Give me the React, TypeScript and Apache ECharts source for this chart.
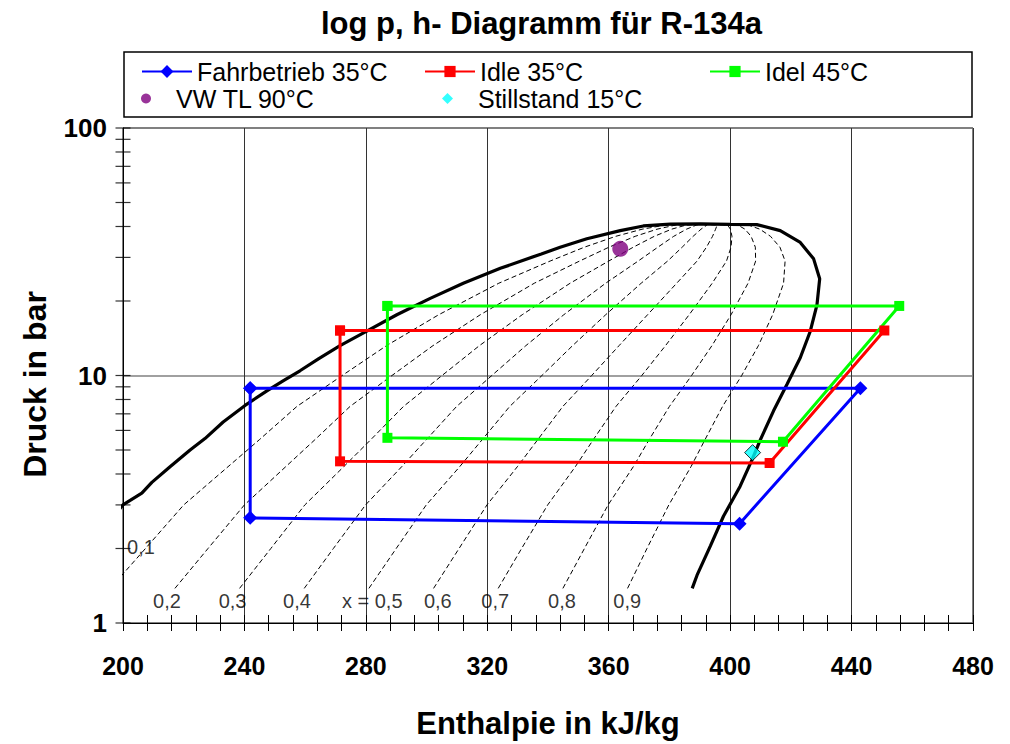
import React, { useEffect, useRef } from "react";
import * as echarts from "echarts";

const FONT = "'Liberation Sans', Arial, sans-serif";

// Saturation curve (liquid side, then vapour side), [h kJ/kg, p bar]
const satLiquidH = [197.4, 200.1, 206.2, 209.5, 215.5, 222.1, 227.0, 233.0, 240.2, 247.4, 253.0, 258.3, 264.5, 271.5, 280.3, 290.2, 301.2, 312.1, 324.3, 337.8, 344.0, 352.8, 363.8, 371.4, 380.3, 390.2];
const satLiquidP = [2.75, 3.01, 3.35, 3.70, 4.28, 5.0, 5.56, 6.49, 7.57, 8.67, 9.55, 10.45, 11.7, 13.2, 15.1, 17.6, 20.5, 23.6, 27.1, 31.0, 33.0, 35.7, 38.5, 40.2, 40.9, 41.0];
const satVapourH = [400.0, 408.8, 416.5, 423.1, 427.5, 429.5, 428.6, 426.4, 423.1, 418.7, 414.3, 409.9, 407.2, 403.3, 397.8, 393.5, 389.1, 387.5];
const satVapourP = [40.8, 40.7, 38.5, 34.5, 29.6, 24.6, 19.3, 15.1, 11.8, 9.2, 7.2, 5.48, 4.56, 3.57, 2.70, 2.05, 1.56, 1.38];

// Quality lines x = 0.1 ... 0.9 : enthalpy at each of these pressures
const qualityP = [1.38, 2.0, 3.0, 4.28, 5.5, 7.5, 10, 13.2, 17.6, 23.6, 29, 33, 36.5, 39, 40.5, 40.9];
const q01 = [195.8, 207.4, 220.0, 234.6, 244.9, 257.3, 272.2, 286.8, 304.0, 323.8, 340.7, 352.0, 362.3, 371.0, 378.5, 390.2];
const q02 = [217.1, 228.0, 240.0, 253.6, 263.2, 274.8, 288.6, 302.1, 317.7, 335.5, 350.4, 360.1, 368.7, 375.9, 381.9, 390.2];
const q03 = [238.4, 248.7, 259.9, 272.7, 281.6, 292.4, 305.1, 317.4, 331.5, 347.3, 360.0, 368.1, 375.0, 380.7, 385.4, 390.2];
const q04 = [259.7, 269.3, 279.9, 291.8, 299.9, 309.9, 321.5, 332.7, 345.2, 359.0, 369.7, 376.2, 381.4, 385.6, 388.8, 390.2];
const q05 = [281.0, 290.0, 299.9, 310.9, 318.3, 327.4, 338.0, 348.1, 359.0, 370.7, 379.4, 384.2, 387.8, 390.4, 392.3, 390.2];
const q06 = [302.3, 310.7, 319.9, 329.9, 336.6, 344.9, 354.4, 363.4, 372.8, 382.4, 389.1, 392.2, 394.2, 395.2, 395.7, 390.2];
const q07 = [323.6, 331.3, 339.9, 349.0, 354.9, 362.4, 370.9, 378.7, 386.5, 394.1, 398.8, 400.3, 400.6, 400.1, 399.2, 390.2];
const q08 = [344.9, 352.0, 359.8, 368.1, 373.3, 380.0, 387.3, 394.0, 400.3, 405.9, 408.4, 408.3, 406.9, 404.9, 402.6, 390.2];
const q09 = [366.2, 372.6, 379.8, 387.1, 391.7, 397.5, 403.8, 409.3, 414.0, 417.6, 418.1, 416.4, 413.3, 409.8, 406.1, 390.2];
const qualityLines = [q01, q02, q03, q04, q05, q06, q07, q08, q09];

// Quality labels
const qLabelText = ["0,1", "0,2", "0,3", "0,4", "x = 0,5", "0,6", "0,7", "0,8", "0,9"];
const qLabelH = [205.9, 214.5, 236.1, 257.3, 282.1, 303.7, 322.6, 344.6, 366.1];
const qLabelP = [2.03, 1.225, 1.225, 1.225, 1.225, 1.225, 1.225, 1.225, 1.225];

// Cycles
const fahrH = [241.9, 241.9, 403.1, 442.9, 241.9];
const fahrP = [8.88, 2.66, 2.52, 8.88, 8.88];
const idle35H = [271.5, 271.5, 413.0, 450.8, 271.5];
const idle35P = [15.2, 4.50, 4.43, 15.2, 15.2];
const idel45H = [287.1, 287.1, 417.4, 455.7, 287.1];
const idel45P = [19.1, 5.6, 5.4, 19.1, 19.1];
const vwH = [363.8];
const vwP = [32.5];
const stillH = [407.4];
const stillP = [4.88];

// Axis ticks
const yTickValues = [1, 2, 3, 4, 5, 6, 7, 8, 9, 10, 20, 30, 40, 50, 60, 70, 80, 90, 100];

const zip = (h: number[], p: number[]) => h.map((v, i) => [v, p[i]]);

export default function App() {
  const ref = useRef<HTMLDivElement>(null);
  useEffect(() => {
    if (!ref.current) return;
    const chart = echarts.init(ref.current, undefined, { renderer: "svg" });
    const axisText = { fontFamily: FONT, fontSize: 25, fontWeight: "bold", color: "#000" };
    const nameText = { fontFamily: FONT, fontSize: 31, fontWeight: "bold", color: "#000" };
    const legendText = { fontFamily: FONT, fontSize: 25, color: "#000" };

    const satData = [...zip(satLiquidH, satLiquidP), ...zip(satVapourH, satVapourP)];

    const qualitySeries = qualityLines.map((arr, i) => ({
      type: "line",
      name: "q" + (i + 1),
      data: zip(arr, qualityP),
      symbol: "none",
      silent: true,
      lineStyle: { color: "#000", width: 1, type: [5, 3] },
      z: 2,
    }));

    const option: any = {
      animation: false,
      backgroundColor: "#fff",
      title: {
        text: "log p, h- Diagramm für R-134a",
        left: 316,
        top: 3,
        textStyle: { fontFamily: FONT, fontSize: 31, fontWeight: "bold", color: "#000" },
      },
      grid: { left: 123, right: 37, top: 128, bottom: 115, show: true, borderColor: "#000", borderWidth: 1 },
      graphic: [
        {
          type: "rect",
          shape: { x: 124, y: 52, width: 848, height: 65 },
          style: { fill: "none", stroke: "#000", lineWidth: 1.5 },
          z: -1,
        },
      ],
      legend: [
        { data: ["Fahrbetrieb 35°C"], left: 136, top: 54, itemWidth: 50, itemHeight: 16, textStyle: legendText },
        { data: ["Idle 35°C"], left: 419, top: 54, itemWidth: 50, itemHeight: 14, textStyle: legendText },
        { data: ["Idel 45°C"], left: 704, top: 54, itemWidth: 50, itemHeight: 14, textStyle: legendText },
        { data: ["VW TL 90°C"], left: 136, top: 81, itemWidth: 50, itemHeight: 10, textStyle: legendText },
        {
          data: ["Stillstand 15°C"],
          left: 437,
          top: 81,
          itemWidth: 11,
          itemHeight: 11,
          textStyle: { ...legendText, padding: [0, 0, 0, 20] },
          itemStyle: { borderWidth: 0 },
        },
      ],
      xAxis: [
        {
          type: "value",
          min: 200,
          max: 480,
          interval: 40,
          name: "Enthalpie in kJ/kg",
          nameLocation: "middle",
          nameGap: 85,
          nameTextStyle: nameText,
          axisLine: { show: true, lineStyle: { color: "#000", width: 1 } },
          axisTick: { show: true, length: 8, lineStyle: { color: "#000" } },
          minorTick: { show: true, splitNumber: 5, length: 8, lineStyle: { color: "#000" } },
          axisLabel: { ...axisText, margin: 30 },
          splitLine: { show: true, lineStyle: { color: "#333", width: 1 } },
        },
        {
          type: "value",
          position: "bottom",
          min: 200,
          max: 480,
          interval: 40,
          axisLine: { show: false },
          axisTick: { show: true, inside: true, length: 8, lineStyle: { color: "#000" } },
          minorTick: { show: true, splitNumber: 5, length: 8, lineStyle: { color: "#000" } },
          axisLabel: { show: false },
          splitLine: { show: false },
        },
      ],
      yAxis: {
        type: "log",
        logBase: 10,
        min: 1,
        max: 100,
        name: "Druck in bar",
        nameLocation: "middle",
        nameGap: 72,
        nameTextStyle: { ...nameText, fontSize: 32, padding: [0, 18, 0, 0] },
        axisLine: { show: true, lineStyle: { color: "#000", width: 1 } },
        axisTick: { show: false },
        axisLabel: { ...axisText, fontSize: 26, margin: 16 },
        splitLine: { show: true, lineStyle: { color: "#808080", width: 1.5 } },
      },
      series: [
        {
          type: "scatter",
          name: "yticks",
          data: yTickValues.map((v) => [200, v]),
          symbol: "rect",
          symbolSize: [15, 1.2],
          itemStyle: { color: "#000" },
          silent: true,
          clip: false,
          z: 5,
        },
        {
          type: "line",
          name: "Sättigung",
          data: satData,
          symbol: "none",
          silent: true,
          lineStyle: { color: "#000", width: 3.2 },
          z: 3,
        },
        ...qualitySeries,
        {
          type: "scatter",
          name: "qlabels",
          data: qLabelText.map((t, i) => ({ name: t, value: [qLabelH[i], qLabelP[i]] })),
          symbolSize: 1,
          itemStyle: { color: "transparent" },
          silent: true,
          label: { show: true, position: "inside", formatter: "{b}", fontFamily: FONT, fontSize: 20, color: "#000" },
          z: 4,
        },
        {
          type: "line",
          name: "Fahrbetrieb 35°C",
          data: zip(fahrH, fahrP),
          symbol: "diamond",
          symbolSize: 14,
          lineStyle: { color: "#0000FF", width: 3 },
          itemStyle: { color: "#0000FF" },
          z: 10,
        },
        {
          type: "line",
          name: "Idle 35°C",
          data: zip(idle35H, idle35P),
          symbol: "rect",
          symbolSize: 10,
          lineStyle: { color: "#FF0000", width: 3 },
          itemStyle: { color: "#FF0000" },
          z: 10,
        },
        {
          type: "line",
          name: "Idel 45°C",
          data: zip(idel45H, idel45P),
          symbol: "rect",
          symbolSize: 10,
          lineStyle: { color: "#00FF00", width: 3 },
          itemStyle: { color: "#00FF00" },
          z: 10,
        },
        {
          type: "scatter",
          name: "VW TL 90°C",
          data: zip(vwH, vwP),
          symbol: "circle",
          symbolSize: 16,
          itemStyle: { color: "#800080" },
          z: 11,
        },
        {
          type: "scatter",
          name: "Stillstand 15°C",
          data: zip(stillH, stillP),
          symbol: "diamond",
          symbolSize: 16,
          itemStyle: { color: "#00FFFF", borderColor: "#000", borderWidth: 1 },
          z: 11,
        },
      ],
    };
    chart.setOption(option);
    return () => chart.dispose();
  }, []);
  return (
    <div
      ref={ref}
      style={{ position: "fixed", left: 0, top: 0, width: 1010, height: 744, background: "#fff" }}
    />
  );
}
